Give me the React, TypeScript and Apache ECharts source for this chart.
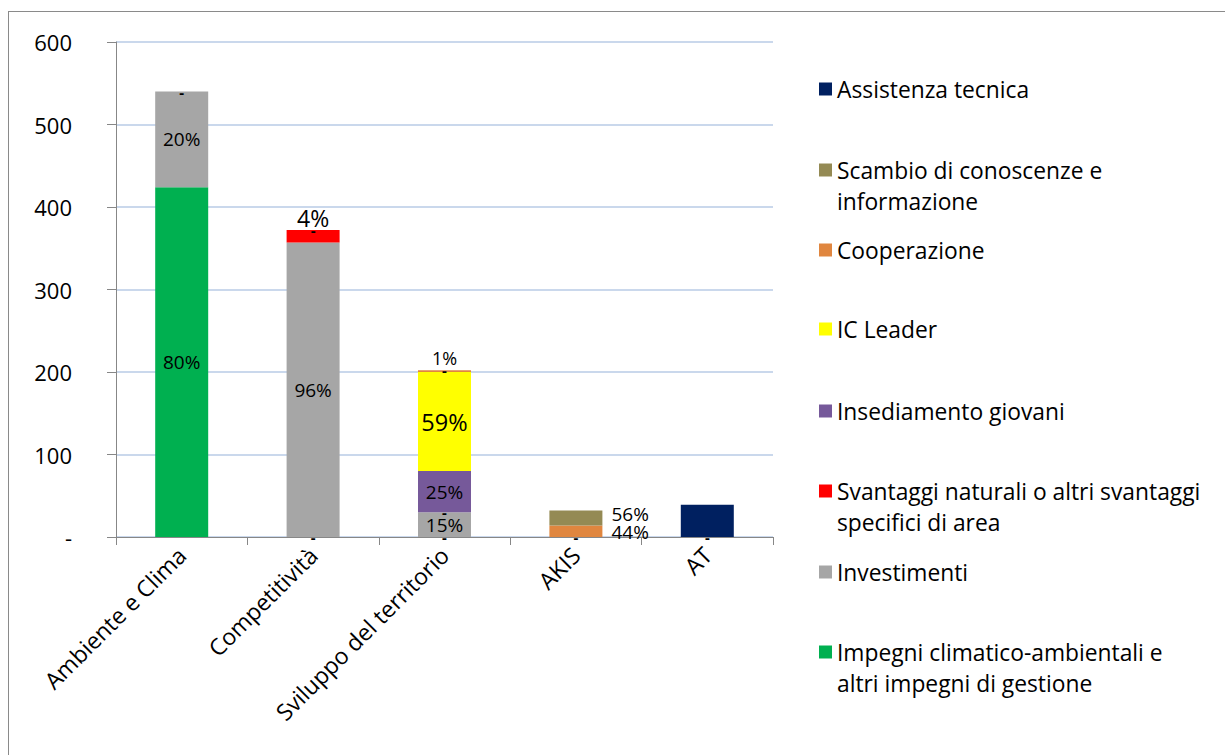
import React, { useEffect, useRef } from "react";
import * as echarts from "echarts";

// ---- data ----
const categories = ["Ambiente e Clima", "Competitività", "Sviluppo del territorio", "AKIS", "AT"];

const impegni = [424, 0, 0, 0, 0];
const investimenti = [116, 357, 30, 0, 0];
const svantaggi = [0, 15, 0, 0, 0];
const insediamento = [0, 0, 50, 0, 0];
const icLeader = [0, 0, 120, 0, 0];
const cooperazione = [0, 0, 2, 14, 0];
const scambio = [0, 0, 0, 18, 0];
const assistenza = [0, 0, 0, 0, 39];

// data labels as printed in the reference ("-" = zero value)
const impegniLabels = ["80%", "-", "-", "-", "-"];
const investimentiLabels = ["20%", "96%", "15%", "", ""];
const svantaggiLabels = ["-", "4%", "-", "", ""];
const insediamentoLabels = ["", "-", "25%", "", ""];
const icLeaderLabels = ["", "", "59%", "", ""];
const cooperazioneLabels = ["", "", "1%", "44%", ""];
const scambioLabels = ["", "", "-", "56%", ""];
const assistenzaLabels = ["", "", "", "", ""];

const seriesNames = [
  "Impegni climatico-ambientali e altri impegni di gestione",
  "Investimenti",
  "Svantaggi naturali o altri svantaggi specifici di area",
  "Insediamento giovani",
  "IC Leader",
  "Cooperazione",
  "Scambio di conoscenze e informazione",
  "Assistenza tecnica",
];

const FONT = "'Open Sans', 'Noto Sans', sans-serif";

export default function App() {
  const ref = useRef<HTMLDivElement>(null);

  useEffect(() => {
    if (!ref.current) return;
    const chart = echarts.init(ref.current, undefined, { renderer: "svg" });

    const values = [impegni, investimenti, svantaggi, insediamento, icLeader, cooperazione, scambio, assistenza];
    const labels = [
      impegniLabels,
      investimentiLabels,
      svantaggiLabels,
      insediamentoLabels,
      icLeaderLabels,
      cooperazioneLabels,
      scambioLabels,
      assistenzaLabels,
    ];
    const colors = ["#00b050", "#a6a6a6", "#ff0000", "#76599a", "#ffff00", "#e0863f", "#948a54", "#002060"];

    // label style overrides (series index, category index)
    const special: Record<string, any> = {
      "2-1": { position: "top", fontSize: 23, distance: 1 },
      "5-2": { position: "top", fontSize: 18, distance: 3 },
      "4-2": { fontSize: 23.5 },
      "5-3": { position: "right", fontSize: 19, distance: 9, offset: [0, 1] },
      "6-3": { position: "right", fontSize: 19, distance: 9, offset: [0, -4] },
    };

    const series = values.map((arr, si) => ({
      name: seriesNames[si],
      type: "bar",
      stack: "total",
      barWidth: 53,
      itemStyle: { color: colors[si] },
      data: arr.map((v, ci) => {
        const txt = labels[si][ci];
        const sp = special[`${si}-${ci}`] || {};
        return {
          value: v,
          label: {
            show: txt !== "",
            formatter: txt,
            position: "inside",
            color: "#000",
            fontFamily: FONT,
            fontSize: txt === "-" ? 15 : 19,
            fontWeight: txt === "-" ? "bold" : "normal",
            ...sp,
          },
        };
      }),
    }));

    const legendTexts: Record<string, string> = {
      "Impegni climatico-ambientali e altri impegni di gestione":
        "\nImpegni climatico-ambientali e\naltri impegni di gestione",
      "Svantaggi naturali o altri svantaggi specifici di area":
        "\nSvantaggi naturali o altri svantaggi\nspecifici di area",
      "Scambio di conoscenze e informazione": "\nScambio di conoscenze e\ninformazione",
    };
    const legendOrder = [...seriesNames].reverse();
    const legendCenters = [77, 158, 238, 317, 399, 479, 560, 640];
    const LH = 31;
    const legend = legendOrder.map((name, i) => {
      const two = !!legendTexts[name];
      return {
        data: [name],
        orient: "vertical",
        left: 810,
        top: legendCenters[i] - (two ? LH * 1.5 : LH / 2),
        padding: 0,
        itemWidth: 13,
        itemHeight: 13,
        icon: "rect",
        selectedMode: false,
        formatter: (n: string) => legendTexts[n] || n,
        textStyle: {
          fontFamily: FONT,
          fontSize: 22.8,
          color: "#000",
          lineHeight: LH,
        },
      };
    });

    chart.setOption({
      animation: false,
      backgroundColor: "#fff",
      grid: { left: 107, top: 30, width: 657, height: 495, containLabel: false },
      legend,
      xAxis: {
        type: "category",
        data: categories,
        axisLine: { lineStyle: { color: "#878787", width: 1 } },
        axisTick: { show: true, length: 8, lineStyle: { color: "#878787" } },
        axisLabel: {
          rotate: 45,
          interval: 0,
          margin: 14,
          color: "#000",
          fontFamily: FONT,
          fontSize: 23,
        },
      },
      yAxis: {
        type: "value",
        min: 0,
        max: 600,
        interval: 100,
        axisLine: { show: true, lineStyle: { color: "#878787", width: 1 } },
        axisTick: { show: true, length: 9, lineStyle: { color: "#878787" } },
        splitLine: { lineStyle: { color: "#b9cbe6", width: 1.5 } },
        axisLabel: {
          margin: 44,
          color: "#000",
          fontFamily: FONT,
          fontSize: 22,
          formatter: (v: number) => (v === 0 ? "-" : String(v)),
        },
      },
      series,
    });

    return () => chart.dispose();
  }, []);

  return (
    <div
      style={{
        position: "absolute",
        left: 8,
        top: 11,
        borderTop: "1px solid #8a8a8a",
        borderLeft: "1px solid #8a8a8a",
      }}
    >
      <div ref={ref} style={{ width: 1216, height: 743 }} />
    </div>
  );
}
